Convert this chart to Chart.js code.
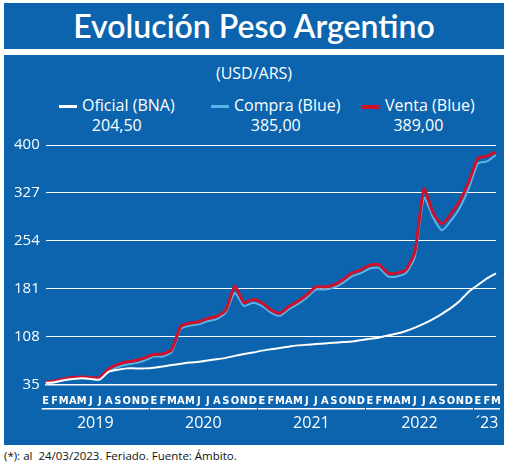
<!DOCTYPE html>
<html><head><meta charset="utf-8">
<script src="https://cdn.jsdelivr.net/npm/chart.js@4"></script>
<style>
body{margin:0;background:#fff;font-family:"Open Sans",sans-serif;width:520px;height:467px;position:relative;overflow:hidden}
#title{position:absolute;left:4px;top:3px;width:500px;height:46px;background:#0b64ad;color:#fff;font-size:32px;text-align:center;line-height:46px;font-family:"Lato","Open Sans",sans-serif;font-weight:600}
#panel{position:absolute;left:4px;top:55px;width:500px;height:390px;background:#0b64ad}
#sub{position:absolute;top:7px;width:100%;text-align:center;color:#fff;font-size:16px}
.lg{position:absolute;top:40px;color:#fff;font-size:16px;text-align:center;line-height:20px}
.sw{display:inline-block;width:18px;height:3px;vertical-align:middle;margin-right:5px}
#wrap{position:absolute;left:0;top:75px;width:500px;height:315px}
#foot{position:absolute;left:4px;top:448px;font-size:11.5px;color:#111}
</style></head><body>
<div id="title">Evolución Peso Argentino</div>
<div id="panel">
<div id="sub">(USD/ARS)</div>
<div class="lg" style="left:55px"><span class="sw" style="background:#fff"></span>Oficial (BNA)<br>204,50</div>
<div class="lg" style="left:207px"><span class="sw" style="background:#5db3e6"></span>Compra (Blue)<br>385,00</div>
<div class="lg" style="left:358px"><span class="sw" style="background:#d0102b;height:4px"></span>Venta (Blue)<br>389,00</div>
<div id="wrap"><canvas id="c"></canvas></div>
</div>
<div id="foot">(*): al&nbsp; 24/03/2023. Feriado. Fuente: Ámbito.</div>
<script>
const months=["E","F","M","A","M","J","J","A","S","O","N","D"];
const labels=[];for(let y=0;y<4;y++)labels.push(...months);labels.push("E","F","M");
const years=["2019","2020","2021","2022","´23"];
const compra=[37,39,42,44,45,44,44,55,62,66,68,72,
78,78,85,120,125,127,132,135,145,175,155,160,
155,145,140,150,158,168,180,180,183,190,200,205,
212,213,200,200,205,230,320,290,270,285,305,335,
372,375,385];
const venta=[39,41,44,46,47,46,46,59,66,70,72,76,
81,82,89,124,129,131,136,139,149,185,160,165,
160,149,144,154,162,172,184,184,187,195,205,210,
217,218,205,205,210,238,333,297,280,295,315,345,
380,383,389];
const oficial=[38,39,42,44,45,44,43,55,58,60,60,60,
61,63,65,67,69,70,72,74,76,79,82,84,
87,89,91,93,95,96,97,98,99,100,101,103,
105,107,110,113,117,122,128,135,143,152,163,177,
187,197,204.5];
const yearPlugin={id:'yr',afterDraw(ch){const c=ch.ctx,x=ch.scales.x;c.save();c.strokeStyle='#fff';c.fillStyle='#fff';c.lineWidth=1.5;c.font='16px "Open Sans"';c.textAlign='center';
const spans=[[0,11],[12,23],[24,35],[36,47],[48,50]];
spans.forEach((s,i)=>{const a=x.getPixelForValue(s[0])-4,b=x.getPixelForValue(s[1])+4;const y=ch.chartArea.bottom+24;c.beginPath();c.moveTo(a,y);c.lineTo(b,y);c.stroke();c.fillText(years[i],(a+b)/2,y+19);});c.restore();}};
new Chart(document.getElementById('c'),{type:'line',
data:{labels,datasets:[
{data:oficial,borderColor:'#fff',borderWidth:2},
{data:venta,borderColor:'#d0102b',borderWidth:3},
{data:compra,borderColor:'#5db3e6',borderWidth:2}]},
options:{responsive:true,maintainAspectRatio:false,animation:false,
elements:{point:{radius:0},line:{tension:0.2}},
layout:{padding:{top:10,right:8,bottom:35,left:4}},
plugins:{legend:{display:false},tooltip:{enabled:false}},
scales:{
x:{offset:false,grid:{display:false},border:{color:'#fff',width:1.5},ticks:{color:'#fff',font:{size:11,weight:'bold',family:'"Liberation Sans Narrow","DejaVu Sans Condensed",sans-serif'},maxRotation:0,autoSkip:false,padding:2}},
y:{min:35,max:400,grid:{color:'#fff',lineWidth:1,drawTicks:false},border:{display:false},
ticks:{stepSize:73,color:'#fff',font:{size:15,family:'"Open Sans"'},padding:6}}}},
plugins:[yearPlugin]});
</script></body></html>
